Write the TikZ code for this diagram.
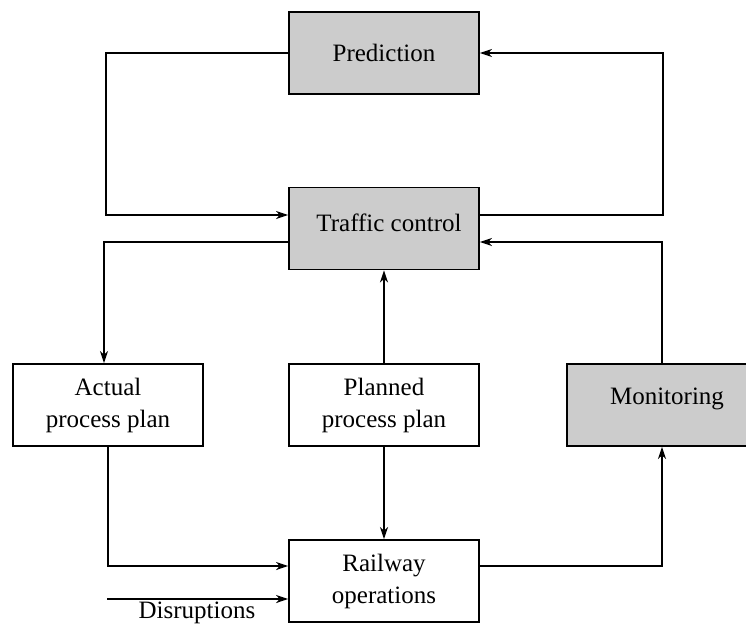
\documentclass[tikz,border=0pt]{standalone}
\usepackage{fontspec}
\setmainfont{Liberation Serif}
\usetikzlibrary{arrows.meta,calc}
\definecolor{boxgray}{HTML}{CCCCCC}
\begin{document}
\begin{tikzpicture}[x=1pt,y=-1pt,
  font=\fontsize{25}{32}\selectfont,
  blk/.style={draw=black,line width=1.8pt,rectangle,minimum width=190pt,minimum height=82pt,inner sep=0pt,align=center},
  shaded/.style={blk,fill=boxgray},
  plain/.style={blk,fill=white},
  arr/.style={line width=1.7pt,-{Stealth[length=12pt,width=8pt,inset=3.5pt]}}]
\useasboundingbox (0,0) rectangle (746,625);
\clip (0,0) rectangle (746,625);

% boxes
\node[shaded] (pred) at (384,53) {Prediction};
\node[shaded] (tc) at (384,228.5) {};
\node[plain] (app) at (108,405) {Actual\\process plan};
\node[plain] (ppp) at (384,405) {Planned\\process plan};
\node[shaded,minimum width=200pt] (mon) at (667,405) {};
\node[plain] (rop) at (384,581) {Railway\\operations};

% labels set a little above the centre of their boxes
\node (tclab) at (389,223) {Traffic control};
\node (monlab) at (667,399) {Monitoring};

% feedback loops around traffic control
\draw[arr] (pred.west) -- ++(-182,0) |- ([yshift=13.5pt]tc.west);
\draw[arr] ([yshift=13.5pt]tc.east) -- ++(183,0) |- (pred.east);
\draw[arr] ([yshift=-13.5pt]tc.west) -| ([xshift=-4pt]app.north);
\draw[arr] (ppp.north) -- (tc.south);
\draw[arr] ([xshift=-5pt]mon.north) |- ([yshift=-13.5pt]tc.east);

% plans into operations, operations into monitoring
\draw[arr] (app.south) |- ([yshift=15pt]rop.west);
\draw[arr] (ppp.south) -- (rop.north);
\draw[arr] ([yshift=15pt]rop.east) -| ([xshift=-5pt]mon.south);

% external disruptions
\coordinate (dis) at (107,599);
\draw[arr] (dis) -- (dis -| rop.west);
\node (dlab) at (197,613) {Disruptions};
\end{tikzpicture}
\end{document}
